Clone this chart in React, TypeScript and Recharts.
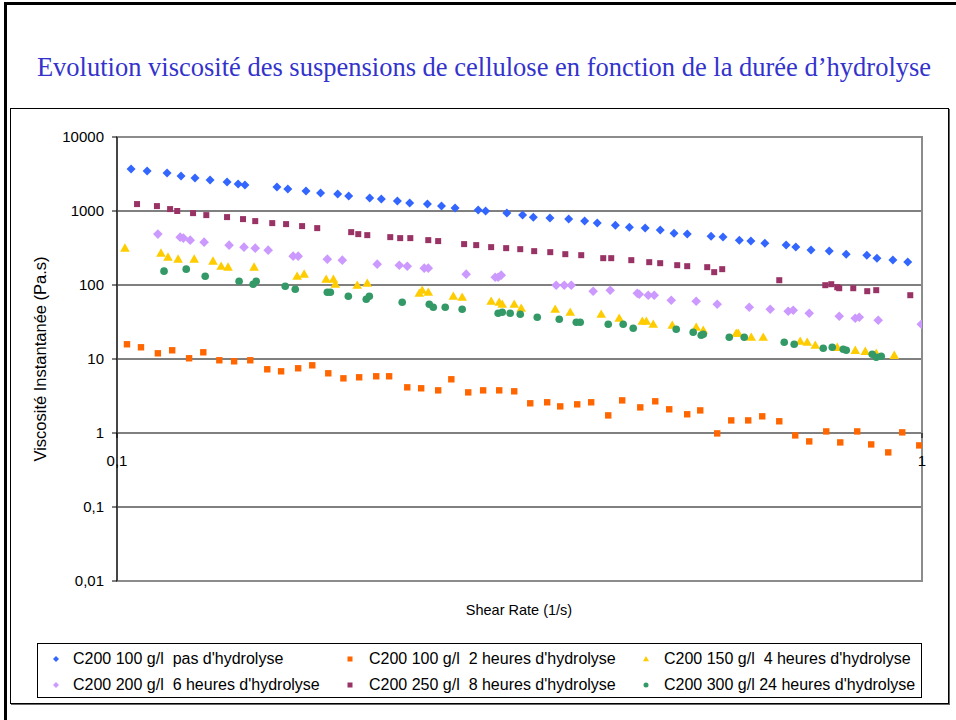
import React from 'react';
import { ScatterChart, Scatter, XAxis, YAxis, CartesianGrid, ReferenceArea, ReferenceDot } from 'recharts';

type Pt = [number, number];

const chartTitle = 'Evolution viscosité des suspensions de cellulose en fonction de la durée d\u2019hydrolyse';
const xTitle = 'Shear Rate (1/s)';
const yTitle = 'Viscosité Instantanée (Pa.s)';
const yTicks = [0.01, 0.1, 1, 10, 100, 1000, 10000];
const xTickValues = [0.1, 1];

const seriesNames = [
  "C200 100 g/l  pas d'hydrolyse",
  "C200 100 g/l  2 heures d'hydrolyse",
  "C200 150 g/l  4 heures d'hydrolyse",
  "C200 200 g/l  6 heures d'hydrolyse",
  "C200 250 g/l  8 heures d'hydrolyse",
  "C200 300 g/l 24 heures d'hydrolyse",
];

const c100Pas: Pt[] = [
  [0.1041, 3690], [0.109, 3467], [0.1154, 3258], [0.1201, 2965], [0.125, 2786], [0.1305, 2618],
  [0.137, 2460], [0.1414, 2312], [0.1442, 2240], [0.158, 2105], [0.163, 1977], [0.1717, 1858],
  [0.179, 1746], [0.188, 1694], [0.194, 1592], [0.206, 1496], [0.213, 1449], [0.223, 1362],
  [0.231, 1280], [0.243, 1240], [0.253, 1165], [0.263, 1094], [0.281, 1028], [0.287, 998],
  [0.305, 937], [0.319, 881], [0.329, 826], [0.345, 802], [0.364, 777], [0.381, 730],
  [0.395, 686], [0.416, 644], [0.433, 605], [0.453, 587], [0.473, 552], [0.492, 502],
  [0.511, 487], [0.547, 457], [0.566, 444], [0.593, 404], [0.613, 392], [0.638, 368],
  [0.678, 346], [0.697, 325], [0.728, 296], [0.767, 287], [0.805, 261], [0.854, 253],
  [0.879, 230], [0.92, 217], [0.96, 204],
];

const c100H2: Pt[] = [
  [0.1029, 15.81], [0.1071, 14.4], [0.1124, 11.94], [0.1171, 13.11], [0.1229, 10.23], [0.128, 12.32],
  [0.134, 9.61], [0.1398, 9.31], [0.1464, 9.61], [0.1537, 7.26], [0.1599, 6.82], [0.1679, 7.49],
  [0.1748, 8.22], [0.183, 6.41], [0.1911, 5.48], [0.1999, 5.66], [0.2099, 5.84], [0.2178, 5.84],
  [0.2294, 4.14], [0.2387, 4.02], [0.2506, 3.77], [0.2602, 5.32], [0.2731, 3.54], [0.285, 3.77],
  [0.2984, 3.77], [0.3115, 3.66], [0.3261, 2.52], [0.3423, 2.6], [0.3553, 2.29], [0.373, 2.44],
  [0.3882, 2.6], [0.4076, 1.73], [0.4242, 2.76], [0.4467, 2.22], [0.4663, 2.68], [0.4853, 2.09],
  [0.5109, 1.79], [0.5303, 2.02], [0.5567, 0.988], [0.5795, 1.48], [0.6083, 1.48], [0.6332, 1.68],
  [0.6648, 1.44], [0.6959, 0.928], [0.7243, 0.77], [0.7604, 1.05], [0.7915, 0.746], [0.8309, 1.05],
  [0.8648, 0.701], [0.908, 0.547], [0.945, 1.02], [0.9922, 0.68],
];

const c150H4: Pt[] = [
  [0.1023, 314.8], [0.1134, 269.4], [0.1157, 237.8], [0.1191, 223.4], [0.1247, 223.4], [0.1316, 210],
  [0.1347, 179.6], [0.1374, 174.2], [0.148, 174.2], [0.1674, 131.6], [0.1708, 140.1], [0.1819, 119.8],
  [0.1857, 119.8], [0.1867, 102.5], [0.1988, 99.4], [0.2046, 105.8], [0.2374, 77.5], [0.2394, 85.1],
  [0.2436, 79.9], [0.2617, 70.6], [0.2684, 68.4], [0.2916, 60.4], [0.2984, 58.5], [0.301, 55],
  [0.3115, 55], [0.3178, 48.6], [0.3502, 47.1], [0.3656, 42.9], [0.3995, 40.3], [0.4206, 35.6],
  [0.4493, 32.4], [0.4545, 32.4], [0.4636, 29.5], [0.4895, 28.6], [0.5242, 26.86], [0.5349, 24.46],
  [0.5878, 22.28], [0.5912, 22.28], [0.6136, 19.67], [0.635, 19.67], [0.7059, 17.36], [0.7202, 16.83],
  [0.7369, 15.33], [0.7847, 14.4], [0.8262, 13.11], [0.8502, 12.71], [0.8773, 11.94], [0.9237, 11.22],
];

const c200H6: Pt[] = [
  [0.1124, 487], [0.1198, 443.5], [0.1209, 430], [0.1233, 404], [0.1283, 379.5], [0.1378, 345.6],
  [0.1438, 324.8], [0.1485, 314.8], [0.1541, 295.8], [0.1655, 245.4], [0.1679, 245.4], [0.1825, 223.4],
  [0.1905, 216.6], [0.2105, 191.2], [0.2242, 185.3], [0.2294, 179.6], [0.2408, 168.8], [0.2436, 168.8],
  [0.2715, 140.1], [0.295, 127.5], [0.2975, 127.5], [0.3001, 135.8], [0.3512, 99.4], [0.3594, 99.4],
  [0.3667, 99.4], [0.3904, 82.5], [0.4099, 85.1], [0.4429, 77.5], [0.4454, 75.1], [0.457, 72.8],
  [0.4649, 72.8], [0.4881, 62.3], [0.5242, 60.4], [0.5567, 55], [0.6101, 50.1], [0.6478, 47.1],
  [0.682, 44.2], [0.6919, 45.6], [0.7243, 41.6], [0.7892, 37.8], [0.8262, 35.6], [0.8357, 36.7],
  [0.8823, 33.4], [0.998, 29.5],
];

const c250H8: Pt[] = [
  [0.1059, 1240], [0.1121, 1165], [0.1164, 1061], [0.1188, 1000], [0.1243, 936], [0.1291, 880],
  [0.137, 827], [0.1434, 777], [0.1485, 730], [0.1559, 686], [0.1622, 665], [0.1698, 625],
  [0.1773, 587], [0.1954, 518], [0.1994, 487], [0.2046, 472], [0.2185, 443.5], [0.2248, 430],
  [0.2314, 430], [0.2436, 404], [0.2506, 392], [0.2699, 357], [0.2794, 346], [0.2916, 324.8],
  [0.3044, 314.8], [0.3169, 305], [0.3298, 286.7], [0.3453, 277.9], [0.3605, 261], [0.3773, 253],
  [0.4018, 230.5], [0.4111, 230.5], [0.4354, 216.6], [0.4583, 203.5], [0.4729, 197.2], [0.4965, 185.3],
  [0.5109, 179.6], [0.541, 174.2], [0.5519, 149.1], [0.5647, 163.7], [0.6648, 116.1], [0.7583, 99.4],
  [0.7714, 102.5], [0.7847, 93.4], [0.7892, 90.5], [0.8215, 90.5], [0.855, 82.5], [0.8773, 85.1],
  [0.967, 72.8],
];

const c300H24: Pt[] = [
  [0.1144, 153.8], [0.1219, 163.7], [0.1287, 131.6], [0.1418, 112.6], [0.1476, 102.5], [0.1489, 112.6],
  [0.1618, 96.3], [0.1665, 87.8], [0.1825, 79.9], [0.1841, 79.9], [0.1938, 70.6], [0.204, 64.3],
  [0.2058, 70.6], [0.2261, 58.5], [0.2443, 55], [0.2471, 50.1], [0.2557, 50.1], [0.2684, 47.1],
  [0.2975, 41.6], [0.301, 42.9], [0.3079, 41.6], [0.3169, 40.3], [0.3327, 36.7], [0.3543, 34.5],
  [0.372, 31.4], [0.3762, 31.4], [0.4076, 29.5], [0.4254, 29.5], [0.4378, 26.04], [0.4951, 25.24],
  [0.5197, 22.98], [0.5318, 20.93], [0.5349, 21.6], [0.5762, 19.67], [0.6014, 19.67], [0.6743, 16.83],
  [0.6938, 15.81], [0.7539, 13.96], [0.7736, 14.4], [0.7983, 13.53], [0.8052, 13.11], [0.8673, 11.58],
  [0.8773, 10.55], [0.8899, 10.88],
];

const seriesData: Pt[][] = [c100Pas, c100H2, c150H4, c200H6, c250H8, c300H24];

type MarkerKind = 'diamond' | 'square' | 'triangle' | 'circle';
const seriesStyle: { color: string; kind: MarkerKind; size: number }[] = [
  { color: '#3366FF', kind: 'diamond', size: 4.5 },
  { color: '#FF6600', kind: 'square', size: 3.2 },
  { color: '#FFCC00', kind: 'triangle', size: 4.8 },
  { color: '#CC99FF', kind: 'diamond', size: 4.8 },
  { color: '#993366', kind: 'square', size: 3 },
  { color: '#339966', kind: 'circle', size: 3.8 },
];

const FONT = '"Liberation Sans", Arial, sans-serif';

function marker(kind: MarkerKind, cx: number, cy: number, s: number, color: string) {
  if (kind === 'diamond') {
    return <polygon points={`${cx},${cy - s} ${cx + s},${cy} ${cx},${cy + s} ${cx - s},${cy}`} fill={color} />;
  }
  if (kind === 'square') {
    return <rect x={cx - s} y={cy - s} width={2 * s} height={2 * s} fill={color} />;
  }
  if (kind === 'triangle') {
    return <polygon points={`${cx},${cy - s} ${cx + s},${cy + s * 0.75} ${cx - s},${cy + s * 0.75}`} fill={color} />;
  }
  return <circle cx={cx} cy={cy} r={s} fill={color} />;
}

const fmt = (v: number) => String(v).replace('.', ',');

const XTickMark = (p: any) => (
  <line x1={p.cx} y1={p.cy} x2={p.cx} y2={p.cy + 5} stroke="#000" strokeWidth={1} />
);

export default function App() {
  return (
    <div style={{ position: 'absolute', left: 0, top: 0, width: 956, height: 720, background: '#fff', overflow: 'hidden' }}>
      {/* slide frame */}
      <div style={{ position: 'absolute', left: 4, top: 2, width: 1000, height: 800, borderTop: '3px solid #000', borderLeft: '3px solid #000' }} />
      {/* chart area frame */}
      <div style={{ position: 'absolute', left: 10, top: 108, width: 937, height: 594, border: '1px solid #000', boxShadow: '1px 1px 0 #666' }} />
      <div style={{ position: 'absolute', left: 0, top: 51, width: 968, textAlign: 'center', fontFamily: '"Liberation Serif", "Times New Roman", serif', fontSize: 26.5, lineHeight: '32px', color: '#3333CC', whiteSpace: 'nowrap' }}>
        {chartTitle}
      </div>
      <div style={{ position: 'absolute', left: 0, top: 0 }}>
        <ScatterChart width={956} height={720} margin={{ top: 137, right: 34, bottom: 139, left: 57 }}>
          <CartesianGrid horizontal vertical={false} stroke="#000" strokeWidth={1} />
          <ReferenceArea x1={0.1} x2={1} y1={0.01} y2={10000} fill="none" stroke="#8c8c8c" strokeWidth={2} ifOverflow="visible" />
          <XAxis type="number" dataKey="x" scale="log" domain={[0.1, 1]} allowDataOverflow hide />
          <YAxis
            type="number"
            dataKey="y"
            scale="log"
            domain={[0.01, 10000]}
            allowDataOverflow
            ticks={yTicks}
            tickFormatter={fmt}
            width={60}
            axisLine={{ stroke: '#000', strokeWidth: 1 }}
            tickLine={{ stroke: '#000' }}
            tickSize={5}
            tickMargin={8}
            tick={{ fill: '#000', fontSize: 15, fontFamily: FONT }}
            label={{ value: yTitle, angle: -90, position: 'center', dx: -47, style: { fill: '#000', fontSize: 16.5, fontFamily: FONT } }}
          />
          {xTickValues.map((v) => (
            <ReferenceDot
              key={v}
              x={v}
              y={1}
              r={0}
              ifOverflow="visible"
              shape={XTickMark}
              label={{ value: fmt(v), position: 'bottom', offset: 22, style: { fill: '#000', fontSize: 15, fontFamily: FONT } }}
            />
          ))}
          {seriesData.map((pts, i) => {
            const st = seriesStyle[i];
            return (
              <Scatter
                key={i}
                name={seriesNames[i]}
                data={pts.map(([x, y]) => ({ x, y }))}
                isAnimationActive={false}
                fill={st.color}
                shape={(p: any) => marker(st.kind, p.cx, p.cy, st.size, st.color)}
              />
            );
          })}
        </ScatterChart>
      </div>
      <div style={{ position: 'absolute', left: 419, top: 601, width: 200, textAlign: 'center', fontFamily: FONT, fontSize: 14.5, lineHeight: '18px', color: '#000' }}>
        {xTitle}
      </div>
      {/* legend */}
      <div style={{ position: 'absolute', left: 37, top: 643, width: 883, height: 53, border: '1px solid #000' }}>
        {seriesNames.map((name, i) => {
          const col = i % 3;
          const row = Math.floor(i / 3);
          const markerX = [18, 312, 608][col];
          const textX = [35, 331, 626][col];
          const cy = [15, 41][row];
          const st = seriesStyle[i];
          return (
            <React.Fragment key={i}>
              <svg style={{ position: 'absolute', left: markerX - 5, top: cy - 5 }} width={10} height={10}>
                {marker(st.kind, 5, 5, st.kind === 'circle' ? 2.5 : st.kind === 'square' ? 2.5 : 3, st.color)}
              </svg>
              <div style={{ position: 'absolute', left: textX, top: cy - 10, height: 20, lineHeight: '20px', fontFamily: FONT, fontSize: 16, whiteSpace: 'pre', color: '#000' }}>
                {name}
              </div>
            </React.Fragment>
          );
        })}
      </div>
    </div>
  );
}
